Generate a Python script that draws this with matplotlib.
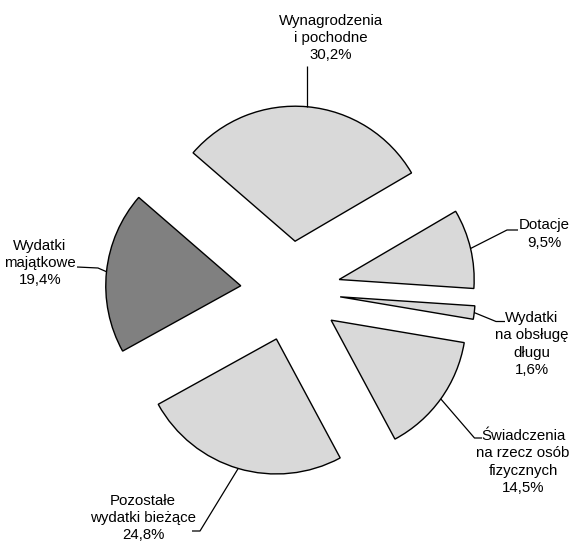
import matplotlib
matplotlib.use("Agg")
import numpy as np
import matplotlib.pyplot as plt

# data
labels = ["Wynagrodzenia\ni pochodne", "Dotacje", "Wydatki\nna obsługę\ndługu",
          "Świadczenia\nna rzecz osób\nfizycznych", "Pozostałe\nwydatki bieżące",
          "Wydatki\nmajątkowe"]
values = [30.2, 9.5, 1.6, 14.5, 24.8, 19.4]
colors = ["#d9d9d9", "#d9d9d9", "#d9d9d9", "#d9d9d9", "#d9d9d9", "#808080"]

W, H = 571, 552
plt.rcParams["font.family"] = ["Liberation Sans", "DejaVu Sans"]

fig = plt.figure(figsize=(W / 100, H / 100), dpi=100)
ax = fig.add_axes([0, 0, 1, 1])

R = 135
center = (290.5, H - 291)
explode = [50] * len(values)   # pie explode is in data units here
wedges, _ = ax.pie(values, colors=colors, explode=explode, radius=R, center=center,
                   startangle=139.1, counterclock=False,
                   wedgeprops=dict(edgecolor="black", linewidth=1.0))
ax.set_xlim(0, W)
ax.set_ylim(0, H)
ax.set_aspect("equal")
ax.axis("off")

# label layout (pixels, y from top): text centre, leader path after the arc point
text_pos = [(331, 38), (544, 234), (532, 344), (523, 462), (143, 518), (40, 263)]
leader = [
    [(None, 66)],
    [(507, 230), (518, 230)],
    [(496, 321.5), (505, 321.5)],
    [(474.5, 438), (482, 438)],
    [(200, 531), (192, 531)],
    [(98, 268), (77, 267)],
]

for w, lab, v, tp, path in zip(wedges, labels, values, text_pos, leader):
    mid = np.deg2rad((w.theta1 + w.theta2) / 2)
    cx, cy = w.center
    ax0 = cx + w.r * np.cos(mid)
    ay0 = cy + w.r * np.sin(mid)
    xs, ys = [ax0], [ay0]
    for px, py in path:
        xs.append(ax0 if px is None else px)
        ys.append(H - py)
    ax.plot(xs, ys, color="black", linewidth=0.9, solid_capstyle="butt")
    txt = lab + "\n" + f"{v:.1f}%".replace(".", ",")
    ax.text(tp[0], H - tp[1], txt, ha="center", va="center", fontsize=10.8,
            linespacing=1.3, color="black")

fig.savefig("out.png", dpi=100)
